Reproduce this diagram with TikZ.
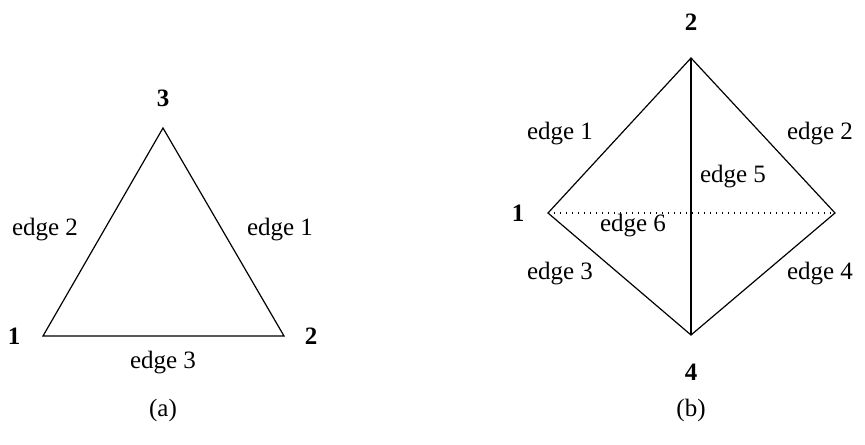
\documentclass[tikz,border=0pt]{standalone}
\usepackage{fontspec}
\setmainfont{Liberation Serif}
\begin{document}
\begin{tikzpicture}[x=0.5pt, y=0.5pt, line width=0.6pt,
  lbl/.style={font=\fontsize{12.5}{15}\selectfont},
  vlbl/.style={font=\fontsize{12.5}{15}\selectfont\bfseries}]
\useasboundingbox (0,0) rectangle (865,444);

% (a) trojúhelník
\coordinate (a1) at (43,108);
\coordinate (a2) at (284,108);
\coordinate (a3) at (163,316);
\draw (a1) -- (a2) -- (a3) -- cycle;

\node[vlbl] (na1) at (14,108) {1};
\node[vlbl] (na2) at (311,108) {2};
\node[vlbl] (na3) at (163,346) {3};
\node[lbl] (ea1) at (280,214) {edge 1};
\node[lbl] (ea2) at (45,214) {edge 2};
\node[lbl] (ea3) at (163,81) {edge 3};
\node[lbl] (capa) at (163,34) {(a)};

% (b) čtyřstěn
\coordinate (b1) at (548,231);
\coordinate (b2) at (691,386);
\coordinate (b3) at (835,231);
\coordinate (b4) at (691,109);
\draw (b1) -- (b2) -- (b3) -- (b4) -- cycle;
\draw (b2) -- (b4);
\draw[dash pattern=on 0.6pt off 2.4pt] (b1) -- (b3);

\node[vlbl] (nb1) at (518,231) {1};
\node[vlbl] (nb2) at (691,422) {2};
\node[vlbl, anchor=west] (nb3) at (860,231) {3};
\node[vlbl] (nb4) at (691,72) {4};
\node[lbl] (eb1) at (560,310) {edge 1};
\node[lbl] (eb2) at (820,310) {edge 2};
\node[lbl] (eb3) at (560,170) {edge 3};
\node[lbl] (eb4) at (820,170) {edge 4};
\node[lbl] (eb5) at (733,267) {edge 5};
\node[lbl] (eb6) at (633,218) {edge 6};
\node[lbl] (capb) at (691,34) {(b)};

\end{tikzpicture}
\end{document}
